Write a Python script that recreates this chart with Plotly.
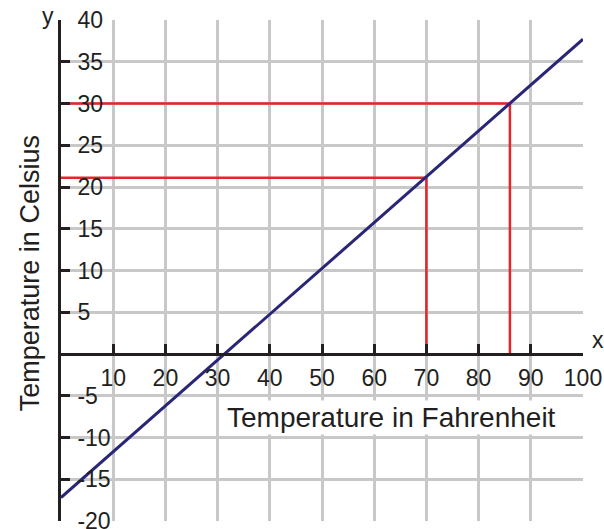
import plotly.graph_objects as go

# -- data --
fahrenheit = [0, 100]
celsius = [-17.2, 37.7]

red_a_x = [0, 86, 86]
red_a_y = [30, 30, 0]
red_b_x = [0, 70, 70]
red_b_y = [21.1, 21.1, 0]

x_ticks = [10, 20, 30, 40, 50, 60, 70, 80, 90, 100]
y_ticks = [40, 35, 30, 25, 20, 15, 10, 5, -5, -10, -15, -20]

INK = "#231F20"
GRID = "#C8C8C8"
RED = "#E3262A"
NAVY = "#2A2677"
FONT = "Liberation Sans, Arial, sans-serif"

fig = go.Figure()
fig.add_trace(go.Scatter(x=red_a_x, y=red_a_y, mode="lines",
                         line=dict(color=RED, width=2.5), hoverinfo="skip"))
fig.add_trace(go.Scatter(x=red_b_x, y=red_b_y, mode="lines",
                         line=dict(color=RED, width=2.5), hoverinfo="skip"))
fig.add_trace(go.Scatter(x=fahrenheit, y=celsius, mode="lines",
                         line=dict(color=NAVY, width=3)))

fig.update_layout(
    width=604, height=529,
    margin=dict(l=61, r=21, t=20, b=8),
    plot_bgcolor="white", paper_bgcolor="white",
    showlegend=False,
    font=dict(family=FONT, color=INK, size=23),
    xaxis=dict(
        range=[0, 100], tickvals=x_ticks, ticktext=[str(v) for v in x_ticks],
        showgrid=True, gridcolor=GRID, gridwidth=3, zeroline=False,
        showline=True, linecolor=INK, linewidth=3,
        ticks="inside", ticklen=9, tickwidth=3, tickcolor=INK,
        anchor="free", position=1 / 3, automargin=False,
        ticklabelstandoff=2,
        tickfont=dict(size=23, color=INK),
    ),
    yaxis=dict(
        range=[-20, 40], tickvals=y_ticks, ticktext=[str(v) for v in y_ticks],
        showgrid=True, gridcolor=GRID, gridwidth=3, zeroline=False,
        showline=True, linecolor=INK, linewidth=3,
        ticks="inside", ticklen=9, tickwidth=3, tickcolor=INK,
        ticklabelposition="inside", ticklabeloverflow="allow",
        ticklabelstandoff=9, automargin=False,
        tickfont=dict(size=23, color=INK),
    ),
    annotations=[
        dict(text="Temperature in Fahrenheit", x=63.4, y=-7.6, xref="x", yref="y",
             xanchor="center", yanchor="middle",
             showarrow=False, bgcolor="white", font=dict(size=28, color=INK)),
        dict(text="Temperature in Celsius", x=-0.059, y=0.495, xref="paper", yref="paper",
             xanchor="center", yanchor="middle",
             textangle=-90, showarrow=False, font=dict(size=27, color=INK)),
        dict(text="y", x=-0.024, y=1.007, xref="paper", yref="paper",
             xanchor="center", yanchor="middle",
             showarrow=False, font=dict(size=23, color=INK)),
        dict(text="x", x=1.029, y=0.361, xref="paper", yref="paper",
             xanchor="center", yanchor="middle",
             showarrow=False, font=dict(size=23, color=INK)),
    ],
)

# drop the default body margin so the figure sits at the page's top-left corner
fig.write_html("out.html", config={"displayModeBar": False},
               post_script="document.body.style.margin = '0';")
